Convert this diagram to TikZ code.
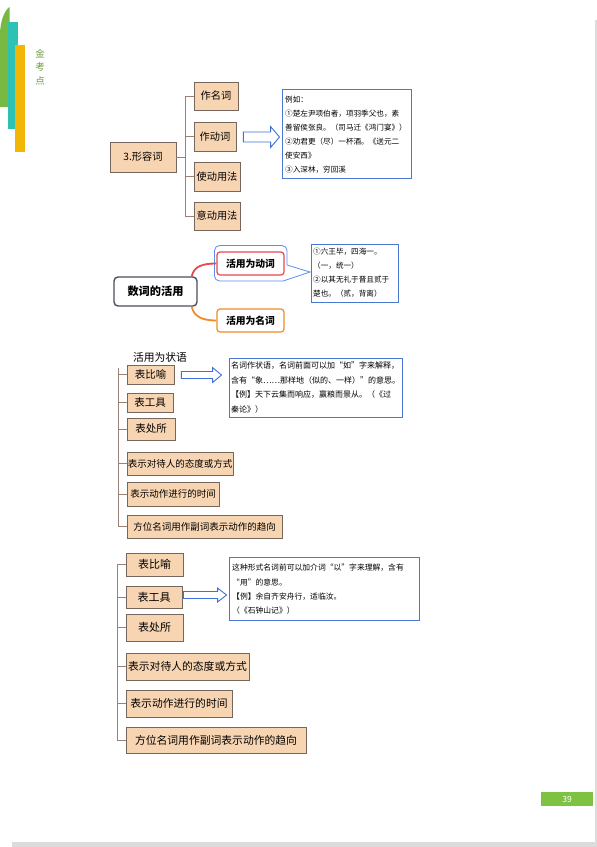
\documentclass[tikz,border=0pt]{standalone}
\usepackage{fontspec}
\setmainfont{Noto Sans CJK SC}
\usetikzlibrary{calc}
\definecolor{peach}{HTML}{F8D5B2}
\definecolor{boxline}{HTML}{76665C}
\definecolor{connline}{HTML}{9A8276}
\definecolor{callblue}{HTML}{4A78D0}
\definecolor{arrblue}{HTML}{3F6FD8}
\definecolor{mapred}{HTML}{E8474F}
\definecolor{maporange}{HTML}{F08A2A}
\definecolor{mapgray}{HTML}{4D4D5C}
\definecolor{bubbleblue}{HTML}{5B8DEF}
\definecolor{logogreen}{HTML}{78B943}
\definecolor{logoteal}{HTML}{2EC2B5}
\definecolor{logoyellow}{HTML}{F2B705}
\definecolor{pagegreen}{HTML}{7DC242}
\definecolor{shadowgray}{HTML}{DCDCDC}
\newcommand\hollowarrow[4]{%
  \draw[harrow] let \p1=(#1), \p2=(#2) in
    (\x1,\y1+#3) -- (\x2-9pt,\y1+#3) -- (\x2-9pt,\y1+#4) -- (\x2,\y1)
    -- (\x2-9pt,\y1-#4) -- (\x2-9pt,\y1-#3) -- (\x1,\y1-#3) -- cycle;}
\begin{document}
\begin{tikzpicture}[x=1pt,y=-1pt,
  box/.style={draw=boxline, fill=peach, line width=0.8pt, inner sep=0pt},
  conn/.style={draw=connline, line width=0.8pt},
  callout/.style={draw=callblue, line width=0.9pt, fill=white, inner sep=0pt},
  calltext/.style={anchor=north west, inner sep=0pt, align=left},
  harrow/.style={draw=arrblue, line width=0.9pt, fill=white},
  bubble/.style={draw=bubbleblue, line width=0.8pt},
  mapnode/.style={draw, fill=white, rounded corners=3pt, inner sep=0pt, font=\fontsize{9.8}{11}\selectfont\bfseries}]
\useasboundingbox (0,0) rectangle (597,847);
% page shadow
\fill[shadowgray] (595,20) rectangle (597,847);
\fill[shadowgray] (12,842) rectangle (597,847);
% logo
\fill[logogreen] (0,107) -- (0,35) .. controls (0,20) and (5,10) .. (9.5,7) -- (9.5,107) -- cycle;
\fill[logoteal] (7.5,22) rectangle (17.7,129);
\fill[logoyellow] (15,45) rectangle (25,152);
\node[text=logogreen!85!black, font=\fontsize{9.5}{13.5}\selectfont, align=center, inner sep=0pt] (logo) at (40,67) {金\\考\\点};
% ---------- section 1
\node[box, minimum width=66pt, minimum height=30pt, font=\fontsize{10.2}{12}\selectfont] (adj) at (143,157) {3.形容词};
\node[box, minimum width=44pt, minimum height=28pt, font=\fontsize{10.2}{12}\selectfont] (n1) at (216,96) {作名词};
\node[box, minimum width=42pt, minimum height=29pt, font=\fontsize{10.2}{12}\selectfont] (n2) at (215,136.5) {作动词};
\node[box, minimum width=46pt, minimum height=29pt, font=\fontsize{10.2}{12}\selectfont] (n3) at (217,176.5) {使动用法};
\node[box, minimum width=46pt, minimum height=28pt, font=\fontsize{10.2}{12}\selectfont] (n4) at (217,216) {意动用法};
\coordinate (t1) at (185,0);
\draw[conn] (adj.east) -- (adj.east -| t1);
\draw[conn] (n1.west -| t1) -- (n4.west -| t1);
\foreach \n in {n1,n2,n3,n4} \draw[conn] (\n.west -| t1) -- (\n.west);
\node[callout, minimum width=129pt, minimum height=89pt] (c1) at (346.5,133.5) {};
\node[calltext, font=\fontsize{7.6}{14}\selectfont] (c1t) at (285,96.2) {例如：\\①楚左尹项伯者，项羽季父也，素\\善留侯张良。（司马迁《鸿门宴》）\\②劝君更（尽）一杯酒。《送元二\\使安西》\\③入深林，穷回溪};
\hollowarrow{$(n2.east)+(7,0.5)$}{$(c1.west)+(-2,3.5)$}{5pt}{10.5pt}
% ---------- section 2
\node[draw=mapgray, line width=1.4pt, fill=white, rounded corners=4pt, inner sep=0pt, minimum width=83pt, minimum height=29pt, font=\fontsize{11.2}{13}\selectfont\bfseries] (sc) at (155.5,291.5) {数词的活用};
\node[mapnode, draw=mapred, line width=1.2pt, minimum width=67pt, minimum height=23pt] (v) at (250.5,263.5) {活用为动词};
\node[mapnode, draw=maporange, line width=1.2pt, minimum width=67pt, minimum height=23pt] (nn) at (250.5,320.5) {活用为名词};
\draw[bubble, rounded corners=5pt] (287,265) -- (287,245.5) -- (214.5,245.5) -- (214.5,281) -- (283,281);
\draw[bubble] (283,281) -- (310,272) -- (287,265);
\draw[mapred, line width=1.8pt] ($(sc.north east)+(-6,0)$) .. controls (194,266) and (203,263.5) .. (v.west);
\draw[maporange, line width=1.8pt] ($(sc.south east)+(-6,0)$) .. controls (194,317) and (203,320.5) .. (nn.west);
\node[callout, minimum width=87pt, minimum height=58pt] (c2) at (354.5,273) {};
\node[calltext, font=\fontsize{7.6}{14}\selectfont] (c2t) at (313,248.2) {①六王毕，四海一。\\（一，统一）\\②以其无礼于晋且贰于\\楚也。（贰，背离）};
% ---------- section 3
\node[inner sep=0pt, font=\fontsize{10.8}{12}\selectfont] (h3) at (160,357) {活用为状语};
\node[box, minimum width=47pt, minimum height=19pt, font=\fontsize{10.5}{12}\selectfont] (a1) at (150.5,374.5) {表比喻};
\node[box, minimum width=46pt, minimum height=19pt, font=\fontsize{10.5}{12}\selectfont] (a2) at (150,402.5) {表工具};
\node[box, minimum width=48pt, minimum height=22pt, font=\fontsize{10.5}{12}\selectfont] (a3) at (151,429) {表处所};
\node[box, minimum width=106pt, minimum height=23pt, font=\fontsize{9.5}{12}\selectfont] (a4) at (180,463.5) {表示对待人的态度或方式};
\node[box, minimum width=92pt, minimum height=24pt, font=\fontsize{9.5}{12}\selectfont] (a5) at (173,494) {表示动作进行的时间};
\node[box, minimum width=155pt, minimum height=23pt, font=\fontsize{9.5}{12}\selectfont] (a6) at (204.5,526.5) {方位名词用作副词表示动作的趋向};
\coordinate (t3) at (118,368);
\draw[conn] (t3) -- (a6.west -| t3);
\foreach \n in {a1,a2,a3,a4,a5,a6} \draw[conn] (\n.west -| t3) -- (\n.west);
\node[callout, minimum width=173pt, minimum height=59pt] (c3) at (315.5,387.5) {};
\node[calltext, font=\fontsize{8}{14.5}\selectfont] (c3t) at (231,362) {名词作状语，名词前面可以加“如”字来解释，\\含有“象……那样地（似的、一样）”的意思。\\【例】天下云集而响应，赢粮而景从。（《过\\秦论》）};
\hollowarrow{$(a1.east)+(7,0.5)$}{$(c3.west)+(-7,-12.5)$}{3.5pt}{7.5pt}
% ---------- section 4
\node[box, minimum width=57pt, minimum height=23pt, font=\fontsize{11}{13}\selectfont] (b1) at (154.5,564.5) {表比喻};
\node[box, minimum width=56pt, minimum height=22pt, font=\fontsize{11}{13}\selectfont] (b2) at (154,597) {表工具};
\node[box, minimum width=57pt, minimum height=27pt, font=\fontsize{11}{13}\selectfont] (b3) at (154.5,627.5) {表处所};
\node[box, minimum width=123pt, minimum height=27pt, font=\fontsize{10.8}{13}\selectfont] (b4) at (187.5,666.5) {表示对待人的态度或方式};
\node[box, minimum width=106pt, minimum height=27pt, font=\fontsize{10.8}{13}\selectfont] (b5) at (179,703.5) {表示动作进行的时间};
\node[box, minimum width=180pt, minimum height=26pt, font=\fontsize{10.8}{13}\selectfont] (b6) at (216,740) {方位名词用作副词表示动作的趋向};
\coordinate (t4) at (117,0);
\draw[conn] (b1.west -| t4) -- (b6.west -| t4);
\foreach \n in {b1,b2,b3,b4,b5,b6} \draw[conn] (\n.west -| t4) -- (\n.west);
\node[callout, minimum width=190pt, minimum height=63pt] (c4) at (324,588.5) {};
\node[calltext, font=\fontsize{7.8}{14.3}\selectfont] (c4t) at (232,564) {这种形式名词前可以加介词“以”字来理解，含有\\“用”的意思。\\【例】余自齐安舟行，适临汝。\\（《石钟山记》）};
\hollowarrow{$(b2.east)+(1,-2)$}{$(c4.west)+(-2,6.5)$}{3.5pt}{7pt}
% page number
\node[fill=pagegreen, minimum width=52pt, minimum height=14pt, inner sep=0pt, text=white, font=\fontsize{8.5}{10}\selectfont] (pg) at (567,799) {39};
\end{tikzpicture}
\end{document}
